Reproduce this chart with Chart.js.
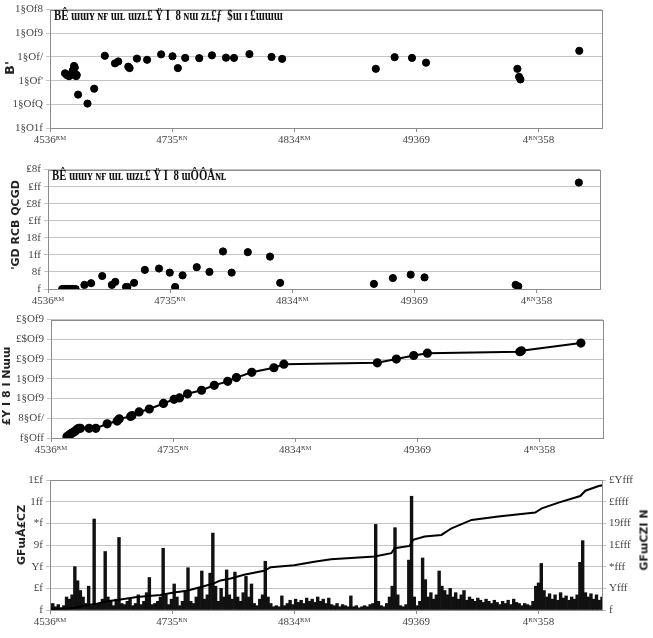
<!DOCTYPE html>
<html>
<head>
<meta charset="utf-8">
<script src="https://cdn.jsdelivr.net/npm/chart.js@4/dist/chart.umd.min.js"></script>
<style>
  body { margin: 0; background: #fff; width: 653px; height: 638px; position: relative; overflow: hidden; }
  .box { position: absolute; left: 0; width: 653px; }
  .ttl { position: absolute; font-family: "Liberation Serif", serif; font-weight: bold; font-size: 15px; color: #111; white-space: nowrap; transform: scaleX(0.72); transform-origin: 0 0; }
  .ax { position: absolute; font-family: "DejaVu Sans", sans-serif; font-weight: bold; font-size: 11px; color: #222; white-space: nowrap; transform: translate(-50%, -50%) rotate(-90deg); }
</style>
</head>
<body>
<div class="box" style="top:0"><canvas id="c1" width="653" height="150"></canvas></div>
<div class="box" style="top:160px"><canvas id="c2" width="653" height="150"></canvas></div>
<div class="box" style="top:310px"><canvas id="c3" width="653" height="150"></canvas></div>
<div class="box" style="top:470px"><canvas id="c4" width="653" height="168"></canvas></div>

<div class="ttl" style="left:54px;top:7px">BÊ ɯɯʏ ɴғ ɯʟ ɯᴢʟ£ Ÿ I &nbsp;8 ɴɯ ᴢʟ£ƒ &nbsp;$ɯ ɪ £ɯɯɯ</div>
<div class="ttl" style="left:52px;top:167px">BÊ ɯɯʏ ɴғ ɯʟ ɯᴢʟ£ Ÿ I &nbsp;8 ɯÔÔÅɴʟ</div>
<div class="ax" style="left:9px;top:68px;font-size:13px">B'</div>
<div class="ax" style="left:15px;top:225px">'GD RCB QCGD</div>
<div class="ax" style="left:6px;top:386px">£Y I 8 I Nɯɯ</div>
<div class="ax" style="left:21px;top:535px">GFɯÅ£CZ</div>
<div class="ax" style="left:644px;top:540px">GFɯCZI N</div>

<script>
// x axis labels (shared by all four panels)
const xTickVals = [0, 1, 2, 3, 4];
const xTickLabels = ["4536ᴿᴹ", "4735ᴿᴺ", "4834ᴿᴹ", "49369", "4ᴿᴺ358"];

// panel 1 - scatter
const p1Labels = ["1§O1f", "1§OfQ", "1§Of'", "1§Of/", "1§Of9", "1§Of8"];
const p1X = [0.123, 0.137, 0.156, 0.170, 0.186, 0.197, 0.203, 0.214, 0.219, 0.230, 0.307, 0.362, 0.449, 0.532, 0.559,
  0.641, 0.652, 0.712, 0.795, 0.910, 1.003, 1.047, 1.107, 1.222, 1.326, 1.441, 1.507, 1.633, 1.814, 1.901,
  2.668, 2.822, 2.964, 3.079, 3.827, 3.841, 3.852, 4.334];
const p1Y = [2.31, 2.24, 2.19, 2.24, 2.42, 2.62, 2.55, 2.19, 2.24, 1.41, 1.03, 1.66, 3.05, 2.73, 2.81,
  2.59, 2.53, 2.93, 2.88, 3.11, 3.03, 2.53, 2.96, 2.95, 3.07, 2.97, 2.96, 3.12, 3.00, 2.92,
  2.50, 2.99, 2.96, 2.76, 2.50, 2.16, 2.05, 3.26];

// panel 2 - scatter
const p2Labels = ["f", "8f", "1ff", "18f", "£ff", "£8f", "₤ff", "₤8f"];
const p2X = [0.116, 0.129, 0.143, 0.157, 0.171, 0.185, 0.198, 0.212, 0.226, 0.298, 0.353, 0.444, 0.523, 0.551,
  0.639, 0.650, 0.705, 0.793, 0.909, 0.997, 1.041, 1.102, 1.218, 1.322, 1.433, 1.504, 1.636, 1.818, 1.901,
  2.669, 2.824, 2.970, 3.083, 3.829, 3.851, 4.347];
const p2Y = [0, 0, 0, 0, 0, 0, 0, 0, 0, 12, 17, 38, 12, 21,
  6, 6, 18, 56, 60, 48, 6, 40, 64, 50, 110, 48, 108, 95, 18,
  15, 32, 42, 34, 12, 8, 312];

// panel 3 - cumulative line
const p3Labels = ["f§Off", "8§Of/", "1§Of9", "1§Of9", "£§Of9", "£$Of9", "£§Of9"];
const p3X = [0.131, 0.145, 0.159, 0.173, 0.186, 0.200, 0.214, 0.227, 0.241, 0.312, 0.367, 0.460, 0.542, 0.559,
  0.652, 0.663, 0.721, 0.805, 0.921, 1.008, 1.052, 1.118, 1.233, 1.337, 1.447, 1.518, 1.644, 1.825, 1.907,
  2.672, 2.828, 2.970, 3.082, 3.839, 3.852, 4.339];
const p3Y = [0.07, 0.13, 0.20, 0.25, 0.30, 0.36, 0.44, 0.49, 0.49, 0.49, 0.49, 0.72, 0.86, 0.97,
  1.09, 1.14, 1.32, 1.47, 1.75, 1.96, 2.03, 2.24, 2.42, 2.67, 2.87, 3.06, 3.33, 3.56, 3.74,
  3.81, 4.00, 4.18, 4.30, 4.37, 4.42, 4.81];

// panel 4 - daily values (left) and running total (right)
const p4LeftLabels = ["f", "£f", "Yf", "9f", "*f", "1ff", "1£f"];
const p4RightLabels = ["f", "Yfff", "*fff", "1£fff", "19fff", "£ffff", "£Yfff"];
const p4Step = 0.0226;
const p4Daily = [4, 6, 3, 5, 2, 4, 12, 10, 14, 40, 27, 18, 12, 6, 22, 4, 84, 5, 6, 10,
  54, 12, 8, 4, 10, 67, 6, 5, 8, 10, 4, 6, 14, 5, 8, 16, 30, 5, 6, 8,
  12, 57, 14, 5, 10, 24, 12, 4, 8, 18, 39, 8, 6, 12, 20, 36, 10, 14, 34, 71,
  22, 8, 20, 12, 37, 14, 10, 35, 12, 8, 16, 31, 12, 24, 6, 4, 10, 14, 45, 12,
  6, 3, 4, 3, 13, 4, 6, 9, 5, 10, 7, 9, 6, 11, 8, 10, 7, 12, 8, 10,
  6, 11, 5, 4, 6, 3, 5, 4, 3, 13, 3, 4, 2, 3, 4, 3, 5, 6, 79, 8,
  4, 3, 6, 12, 22, 76, 14, 4, 3, 5, 46, 105, 12, 4, 8, 48, 28, 12, 16, 10,
  14, 36, 22, 18, 14, 20, 12, 16, 10, 14, 18, 9, 12, 10, 8, 11, 9, 7, 10, 8,
  6, 9, 7, 5, 8, 6, 9, 5, 10, 7, 6, 4, 6, 5, 4, 8, 22, 25, 43, 18,
  12, 15, 10, 14, 9, 16, 11, 13, 9, 12, 10, 14, 44, 64, 16, 12, 15, 10, 14, 9, 12];
const p4CumX = [0, 0.192, 0.301, 0.384, 0.466, 0.564, 0.712, 0.904, 1.014, 1.123, 1.205, 1.334, 1.397, 1.479,
  1.589, 1.753, 1.808, 1.999, 2.164, 2.301, 2.658, 2.795, 2.822, 2.945, 2.973, 3.068, 3.205, 3.288, 3.452,
  3.671, 3.973, 4.027, 4.164, 4.342, 4.384, 4.493, 4.534];
const p4CumY = [200, 370, 860, 1170, 1600, 1900, 2400, 2760, 3250, 3560, 4050, 4850, 5460, 5830,
  6500, 7240, 7910, 8280, 8900, 9390, 9880, 10490, 11410, 11840, 12940, 13560, 13860, 15090, 16630,
  17240, 17980, 18770, 19820, 21040, 22020, 22880, 23070];

const xMax = 4.52;
const tickFont = { family: "Liberation Serif", size: 11 };
const tickColor = "#444";

const frame = {
  id: "frame",
  afterDraw(chart) {
    const a = chart.chartArea, ctx = chart.ctx;
    ctx.save();
    ctx.strokeStyle = "#8c8c8c";
    ctx.lineWidth = 1;
    ctx.strokeRect(Math.round(a.left) + 0.5, Math.round(a.top) + 0.5, Math.round(a.right - a.left), Math.round(a.bottom - a.top));
    ctx.restore();
  }
};

function pts(xs, ys) {
  return xs.map((x, i) => ({ x: x, y: ys[i] }));
}

function xScale(h) {
  return {
    type: "linear", min: 0, max: xMax, offset: false,
    afterBuildTicks: s => { s.ticks = xTickVals.map(v => ({ value: v })); },
    afterFit: s => { s.height = h; },
    grid: { drawOnChartArea: false, tickLength: 4, color: "#8c8c8c", offset: false },
    border: { display: false },
    ticks: { font: tickFont, color: tickColor, maxRotation: 0, padding: 2,
      callback: (v) => xTickLabels[xTickVals.indexOf(v)] }
  };
}

function yScale(w, vals, labels, pos) {
  return {
    type: "linear", position: pos || "left", min: vals[0], max: vals[vals.length - 1],
    afterBuildTicks: s => { s.ticks = vals.map(v => ({ value: v })); },
    afterFit: s => { s.width = w; },
    grid: { color: "#c4c4c4", tickLength: 4, drawOnChartArea: pos !== "right" },
    border: { display: false },
    ticks: { font: tickFont, color: tickColor, padding: 3,
      callback: (v) => labels[vals.indexOf(v)] }
  };
}

function baseOpts(pad) {
  return {
    responsive: false, devicePixelRatio: 1, animation: false,
    layout: { padding: pad },
    plugins: { legend: { display: false }, tooltip: { enabled: false } }
  };
}

// panel 1
new Chart(document.getElementById("c1"), {
  type: "scatter",
  data: { datasets: [{ data: pts(p1X, p1Y), backgroundColor: "#000", borderColor: "#000", pointRadius: 3.6 }] },
  options: Object.assign(baseOpts({ top: 5, right: 51, left: 0, bottom: 0 }), {
    scales: { x: xScale(22), y: yScale(50, [0, 1, 2, 3, 4, 5], p1Labels) }
  }),
  plugins: [frame]
});

// panel 2
new Chart(document.getElementById("c2"), {
  type: "scatter",
  data: { datasets: [{ data: pts(p2X, p2Y), backgroundColor: "#000", borderColor: "#000", pointRadius: 3.6 }] },
  options: Object.assign(baseOpts({ top: 5, right: 53, left: 0, bottom: 0 }), {
    scales: { x: xScale(21), y: yScale(48, [0, 50, 100, 150, 200, 250, 300, 350], p2Labels) }
  }),
  plugins: [frame]
});

// panel 3
new Chart(document.getElementById("c3"), {
  type: "line",
  data: { datasets: [{ data: pts(p3X, p3Y), backgroundColor: "#000", borderColor: "#000", borderWidth: 2,
    pointRadius: 3.6, tension: 0 }] },
  options: Object.assign(baseOpts({ top: 7, right: 50, left: 0, bottom: 0 }), {
    scales: { x: xScale(22), y: yScale(51, [0, 1, 2, 3, 4, 5, 6], p3Labels) }
  }),
  plugins: [frame]
});

// panel 4
new Chart(document.getElementById("c4"), {
  type: "bar",
  data: { datasets: [
    { type: "line", data: pts(p4CumX, p4CumY), yAxisID: "y2", borderColor: "#000", borderWidth: 2,
      pointRadius: 0, fill: false, tension: 0, order: 0 },
    { type: "bar", data: p4Daily.map((v, i) => ({ x: i * p4Step, y: v })), yAxisID: "y",
      backgroundColor: "#111", borderWidth: 0, barPercentage: 1, categoryPercentage: 1, order: 1 }
  ] },
  options: Object.assign(baseOpts({ top: 10, right: 0, left: 0, bottom: 0 }), {
    scales: {
      x: xScale(28),
      y: yScale(50, [0, 20, 40, 60, 80, 100, 120], p4LeftLabels),
      y2: yScale(51, [0, 4000, 8000, 12000, 16000, 20000, 24000], p4RightLabels, "right")
    }
  }),
  plugins: [frame]
});
</script>
</body>
</html>
